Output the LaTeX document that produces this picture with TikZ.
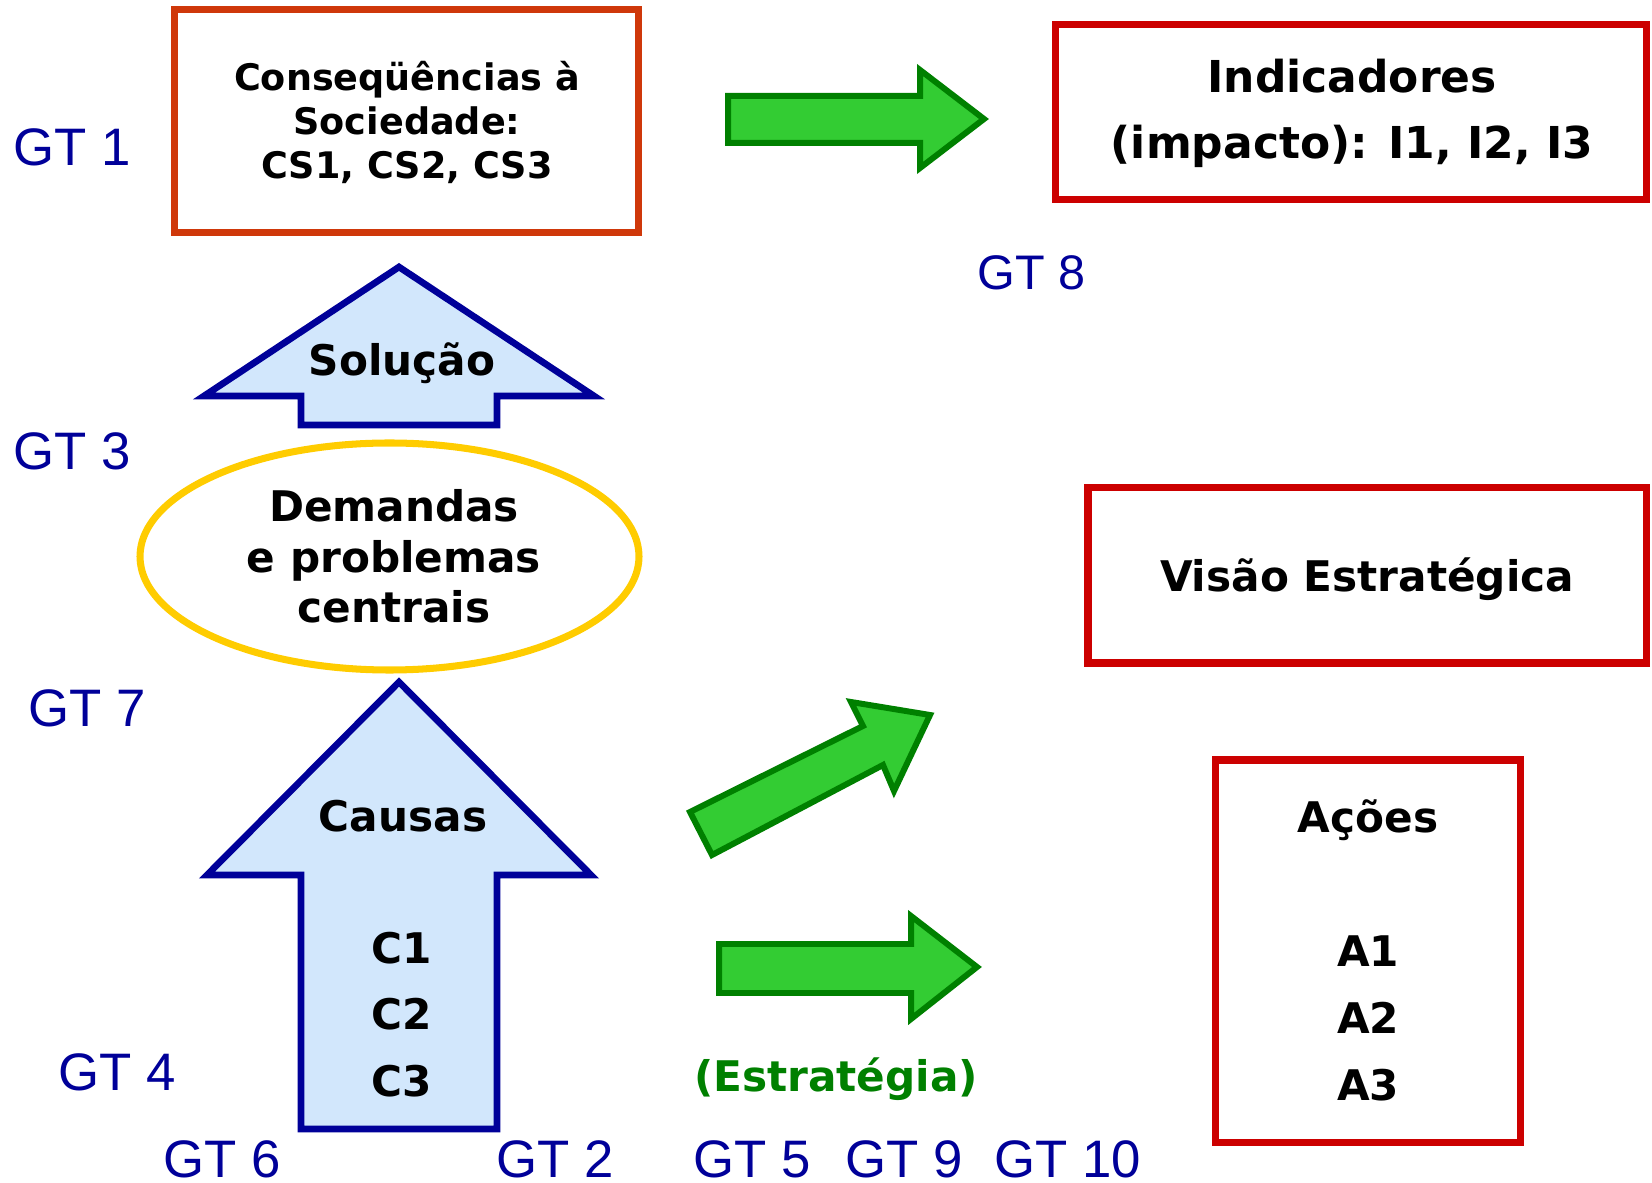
\documentclass[tikz,border=0pt]{standalone}
\usepackage{fontspec}
\newfontfamily\verdfont{DejaVu Sans}
\newfontfamily\arialfont{Liberation Sans}
\definecolor{gtblue}{RGB}{0,0,153}
\definecolor{csred}{RGB}{207,56,10}
\definecolor{boxred}{RGB}{204,0,0}
\definecolor{arrowgreen}{RGB}{51,204,51}
\definecolor{darkgreen}{RGB}{0,128,0}
\definecolor{paleblue}{RGB}{210,231,252}
\definecolor{demyellow}{RGB}{255,204,0}
\begin{document}
\begin{tikzpicture}[x=0.01cm,y=-0.01cm]
	\tikzset{gt/.style = {text=gtblue,font=\arialfont\fontsize{15}{18}\selectfont,anchor=base west,inner sep=0pt}}
	\tikzset{txt/.style = {font=\verdfont\bfseries\fontsize{12}{19}\selectfont,align=center,anchor=base,inner sep=0pt}}
	\tikzset{box/.style = {draw=boxred,line width=2.1pt}}
	\tikzset{bluearrow/.style = {draw=gtblue,fill=paleblue,line width=1.9pt}}
	\tikzset{greenarrow/.style = {draw=darkgreen,fill=arrowgreen,line width=1.7pt}}
	\useasboundingbox (0,0) rectangle (1652,1183);
	% boxes
	\draw[box,draw=csred] (174.5,9.5) rectangle (638.5,232.5);
	\draw[box] (1055.5,24.5) rectangle (1646.5,199.5);
	\draw[box] (1088,487.5) rectangle (1646.5,663);
	\draw[box] (1215.5,760) rectangle (1520.5,1142.5);
	\draw[draw=demyellow,line width=2pt] (389.5,556.5) ellipse (249.5 and 113.5);
	% block arrows
	\draw[bluearrow] (399,267) -- (594,396) -- (497,396) -- (497,425) -- (301,425) -- (301,396) -- (204,396) -- cycle;
	\draw[bluearrow] (399,682) -- (591,875) -- (497,875) -- (497,1129) -- (301,1129) -- (301,875) -- (207,875) -- cycle;
	\draw[greenarrow] (728,96) -- (920,96) -- (920,70) -- (984,119) -- (920,168) -- (920,143) -- (728,143) -- cycle;
	\draw[greenarrow] (719,944) -- (911,944) -- (911,916) -- (977,967) -- (911,1019) -- (911,993) -- (719,993) -- cycle;
	\draw[greenarrow] (690,812) -- (863,726) -- (851,702) -- (930,715) -- (894,791) -- (883,765) -- (712,855) -- cycle;
	% texts
	\node[txt,font=\verdfont\bfseries\fontsize{10.4}{12.6}\selectfont] (cons) at (407,179) {Conseqüências à\\Sociedade:\\CS1, CS2, CS3};
	\node[txt,font=\verdfont\bfseries\fontsize{12.5}{18.8}\selectfont] (ind) at (1352,159) {Indicadores\\(impacto): I1, I2, I3};
	\node[txt] (sol) at (402,376) {Solução};
	\node[txt,font=\verdfont\bfseries\fontsize{12}{14.4}\selectfont] (dem) at (394,623) {Demandas\\e problemas\\centrais};
	\node[txt] (causas) at (403,831) {Causas};
	\node[txt,font=\verdfont\bfseries\fontsize{12}{18.9}\selectfont] (clist) at (402,1096) {C1\\C2\\C3};
	\node[txt] (visao) at (1367,592) {Visão Estratégica};
	\node[txt] (acoes) at (1368,833) {Ações};
	\node[txt] (alist) at (1368,1100) {A1\\A2\\A3};
	\node[txt,text=darkgreen] (estr) at (836,1091) {(Estratégia)};
	% GT labels
	\node[gt] (gt1) at (13,166) {GT 1};
	\node[gt,font=\arialfont\fontsize{13.8}{16}\selectfont] (gt8) at (977,290) {GT 8};
	\node[gt] (gt3) at (13,470) {GT 3};
	\node[gt] (gt7) at (28,727) {GT 7};
	\node[gt] (gt4) at (58,1090) {GT 4};
	\node[gt] (gt6) at (163,1177) {GT 6};
	\node[gt] (gt2) at (496,1177) {GT 2};
	\node[gt] (gt5) at (693,1177) {GT 5};
	\node[gt] (gt9) at (845,1177) {GT 9};
	\node[gt] (gt10) at (994,1177) {GT 10};
\end{tikzpicture}
\end{document}
